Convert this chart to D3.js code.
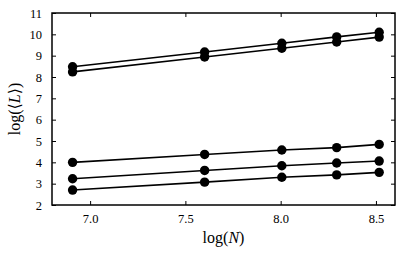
<!DOCTYPE html>
<html>
<head>
<meta charset="utf-8">
<script src="https://cdn.jsdelivr.net/npm/d3@7"></script>
<style>
  body { margin: 0; background: white; }
  text { font-family: "Liberation Serif", "DejaVu Serif", serif; fill: black; }
</style>
</head>
<body>
<div id="canvas"></div>
<script>
// data: log(N) for N = 1000..5000 and log<L> of each series
const logN = [6.908, 7.601, 8.006, 8.294, 8.517];
const seriesA = [8.48, 9.17, 9.58, 9.88, 10.10];
const seriesB = [8.24, 8.94, 9.35, 9.64, 9.87];
const seriesC = [4.00, 4.37, 4.58, 4.69, 4.84];
const seriesD = [3.23, 3.62, 3.84, 3.97, 4.06];
const seriesE = [2.70, 3.07, 3.30, 3.41, 3.53];
const allSeries = [seriesA, seriesB, seriesC, seriesD, seriesE];
const xTicks = [7.0, 7.5, 8.0, 8.5];
const yTicks = [2, 3, 4, 5, 6, 7, 8, 9, 10, 11];

const width = 415, height = 257;
const margin = {top: 13, right: 20, bottom: 52, left: 52};

const svg = d3.select("#canvas").append("svg")
    .attr("width", width)
    .attr("height", height);

const x = d3.scaleLinear().domain([6.8, 8.6]).range([margin.left, width - margin.right]);
const y = d3.scaleLinear().domain([2, 11]).range([height - margin.bottom, margin.top]);

// lines and markers
const line = d3.line().x((d, i) => x(logN[i])).y(d => y(d));
allSeries.forEach(s => {
    svg.append("path")
        .datum(s)
        .attr("fill", "none")
        .attr("stroke", "black")
        .attr("stroke-width", 1.6)
        .attr("d", line);
    svg.append("g").selectAll("circle")
        .data(s)
        .join("circle")
        .attr("cx", (d, i) => x(logN[i]))
        .attr("cy", d => y(d))
        .attr("r", 4.7)
        .attr("fill", "black");
});

// axes, ticks pointing inward
const x0 = margin.left, x1 = width - margin.right;
const y0 = height - margin.bottom, y1 = margin.top;

const axes = [
    svg.append("g")
        .attr("transform", "translate(0," + y0 + ")")
        .call(d3.axisBottom(x).tickValues(xTicks).tickFormat(d3.format(".1f")).tickSize(-4).tickPadding(9)),
    svg.append("g")
        .attr("transform", "translate(0," + y1 + ")")
        .call(d3.axisTop(x).tickValues(xTicks).tickSize(-4).tickFormat("")),
    svg.append("g")
        .attr("transform", "translate(" + x0 + ",0)")
        .call(d3.axisLeft(y).tickValues(yTicks).tickSize(-4).tickPadding(10)),
    svg.append("g")
        .attr("transform", "translate(" + x1 + ",0)")
        .call(d3.axisRight(y).tickValues(yTicks).tickSize(-4).tickFormat(""))
];
axes.forEach(g => g.attr("font-family", "Liberation Serif").attr("font-size", 12.5));

svg.selectAll(".domain").remove();
svg.selectAll(".tick line").attr("stroke", "black").attr("stroke-width", 1);
svg.selectAll(".tick text").attr("fill", "black");

svg.append("rect")
    .attr("x", x0)
    .attr("y", y1)
    .attr("width", x1 - x0)
    .attr("height", y0 - y1)
    .attr("fill", "none")
    .attr("stroke", "black")
    .attr("stroke-width", 1.5);

// axis labels
const xLabel = svg.append("text")
    .attr("x", (x0 + x1) / 2)
    .attr("y", 243)
    .attr("text-anchor", "middle")
    .style("font-size", "16px");
xLabel.append("tspan").text("log(");
xLabel.append("tspan").attr("font-style", "italic").text("N");
xLabel.append("tspan").text(")");

const yLabel = svg.append("text")
    .attr("transform", "translate(20," + ((y0 + y1) / 2) + ") rotate(-90)")
    .attr("text-anchor", "middle")
    .style("font-size", "16px");
yLabel.append("tspan").text("log(⟨");
yLabel.append("tspan").attr("font-style", "italic").text("L");
yLabel.append("tspan").text("⟩)");
</script>
</body>
</html>
